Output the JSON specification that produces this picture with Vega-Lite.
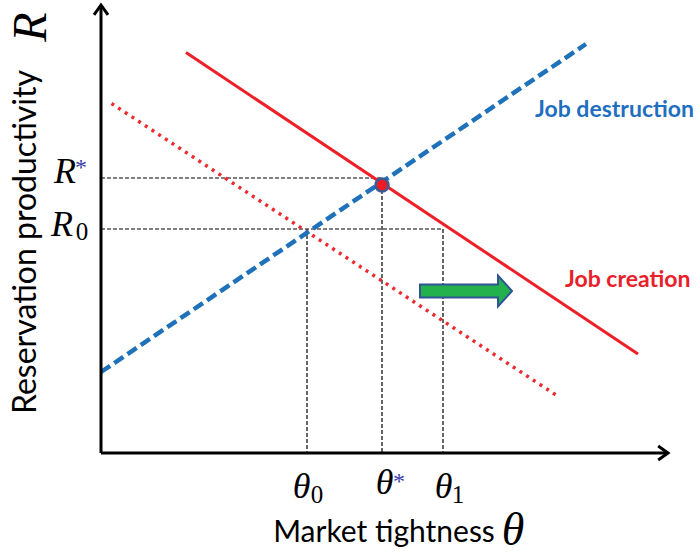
{
  "$schema": "https://vega.github.io/schema/vega-lite/v6.json",
  "width": 696,
  "height": 554,
  "autosize": "none",
  "padding": 0,
  "config": {"view": {"stroke": null}},
  "datasets": {
    "curves": [
      {"series": "Job destruction", "theta": 0.0, "R": 1.62},
      {"series": "Job destruction", "theta": 9.7, "R": 8.18},
      {"series": "Job creation", "theta": 1.7, "R": 8.01},
      {"series": "Job creation", "theta": 10.74, "R": 1.98},
      {"series": "Job creation (initial)", "theta": 0.21, "R": 6.99},
      {"series": "Job creation (initial)", "theta": 9.1, "R": 1.16}
    ],
    "guides": [
      {"theta": 0, "R": 5.5, "theta2": 5.62, "R2": 5.5},
      {"theta": 5.62, "R": 5.5, "theta2": 5.62, "R2": 0},
      {"theta": 0, "R": 4.48, "theta2": 6.84, "R2": 4.48},
      {"theta": 4.12, "R": 4.48, "theta2": 4.12, "R2": 0},
      {"theta": 6.84, "R": 4.48, "theta2": 6.84, "R2": 0}
    ],
    "axes": [
      {"theta": 0, "R": 0, "theta2": 11.3, "R2": 0},
      {"theta": 0, "R": 0, "theta2": 0, "R2": 8.92}
    ]
  },
  "layer": [
    {
      "data": {"name": "guides"},
      "mark": {"type": "rule", "color": "#000000", "strokeWidth": 1.2, "strokeDash": [4, 2]},
      "encoding": {
        "x": {"field": "theta", "type": "quantitative", "scale": {"domain": [-2.02, 11.9], "nice": false, "zero": false}, "axis": null},
        "y": {"field": "R", "type": "quantitative", "scale": {"domain": [-2.02, 9.06], "nice": false, "zero": false}, "axis": null},
        "x2": {"field": "theta2"},
        "y2": {"field": "R2"}
      }
    },
    {
      "data": {"name": "curves"},
      "transform": [{"filter": "datum.series === 'Job creation (initial)'"}],
      "mark": {"type": "line", "color": "#ee2a2f", "strokeWidth": 3.5, "strokeDash": [3, 5]},
      "encoding": {
        "x": {"field": "theta", "type": "quantitative"},
        "y": {"field": "R", "type": "quantitative"}
      }
    },
    {
      "data": {"name": "curves"},
      "transform": [{"filter": "datum.series === 'Job creation'"}],
      "mark": {"type": "line", "color": "#ed1f27", "strokeWidth": 3},
      "encoding": {
        "x": {"field": "theta", "type": "quantitative"},
        "y": {"field": "R", "type": "quantitative"}
      }
    },
    {
      "data": {"name": "curves"},
      "transform": [{"filter": "datum.series === 'Job destruction'"}],
      "mark": {"type": "line", "color": "#1f72ba", "strokeWidth": 4.5, "strokeDash": [11, 5]},
      "encoding": {
        "x": {"field": "theta", "type": "quantitative"},
        "y": {"field": "R", "type": "quantitative"}
      }
    },
    {
      "data": {"name": "axes"},
      "mark": {"type": "rule", "color": "#000000", "strokeWidth": 3},
      "encoding": {
        "x": {"field": "theta", "type": "quantitative"},
        "y": {"field": "R", "type": "quantitative"},
        "x2": {"field": "theta2"},
        "y2": {"field": "R2"}
      }
    },
    {
      "data": {"values": [{"theta": 11.34, "R": 0}]},
      "mark": {"type": "point", "shape": "M-1.4,-1L0,0L-1.4,1", "size": 196, "filled": false, "stroke": "#000000", "strokeWidth": 3, "strokeJoin": "miter", "opacity": 1},
      "encoding": {
        "x": {"field": "theta", "type": "quantitative"},
        "y": {"field": "R", "type": "quantitative"}
      }
    },
    {
      "data": {"values": [{"theta": 0, "R": 8.96}]},
      "mark": {"type": "point", "shape": "M-1.4,-1L0,0L-1.4,1", "size": 196, "angle": 270, "filled": false, "stroke": "#000000", "strokeWidth": 3, "strokeJoin": "miter", "opacity": 1},
      "encoding": {
        "x": {"field": "theta", "type": "quantitative"},
        "y": {"field": "R", "type": "quantitative"}
      }
    },
    {
      "data": {"values": [{"theta": 7.3, "R": 3.24}]},
      "mark": {"type": "point", "shape": "M-1,-0.141L0.696,-0.141L0.696,-0.337L1,0L0.696,0.337L0.696,0.141L-1,0.141Z", "size": 8464, "filled": true, "fill": "#22b14c", "stroke": "#2f5597", "strokeWidth": 2, "opacity": 1},
      "encoding": {
        "x": {"field": "theta", "type": "quantitative"},
        "y": {"field": "R", "type": "quantitative"}
      }
    },
    {
      "data": {"values": [{"theta": 5.62, "R": 5.36}]},
      "mark": {"type": "point", "shape": "circle", "size": 170, "filled": true, "fill": "#ed1c24", "stroke": "#3a5a94", "strokeWidth": 2.5, "opacity": 1},
      "encoding": {
        "x": {"field": "theta", "type": "quantitative"},
        "y": {"field": "R", "type": "quantitative"}
      }
    },
    {
      "data": {"values": [
        {"theta": 4.01, "R": -0.9, "label": "θ"},
        {"theta": 5.67, "R": -0.82, "label": "θ"},
        {"theta": 6.85, "R": -0.9, "label": "θ"},
        {"theta": -0.72, "R": 5.4, "label": "R"},
        {"theta": -0.78, "R": 4.34, "label": "R"}
      ]},
      "mark": {"type": "text", "font": "Liberation Serif", "fontStyle": "italic", "fontSize": 36, "align": "center", "baseline": "alphabetic", "color": "#000000"},
      "encoding": {
        "x": {"field": "theta", "type": "quantitative"},
        "y": {"field": "R", "type": "quantitative"},
        "text": {"field": "label"}
      }
    },
    {
      "data": {"values": [
        {"theta": 4.32, "R": -1.0, "label": "0"},
        {"theta": 7.14, "R": -1.0, "label": "1"},
        {"theta": -0.38, "R": 4.26, "label": "0"}
      ]},
      "mark": {"type": "text", "font": "Liberation Serif", "fontSize": 25, "align": "center", "baseline": "alphabetic", "color": "#000000"},
      "encoding": {
        "x": {"field": "theta", "type": "quantitative"},
        "y": {"field": "R", "type": "quantitative"},
        "text": {"field": "label"}
      }
    },
    {
      "data": {"values": [
        {"theta": 5.96, "R": -0.5, "label": "*"},
        {"theta": -0.4, "R": 5.78, "label": "*"}
      ]},
      "mark": {"type": "text", "font": "Liberation Serif", "fontSize": 24, "align": "center", "baseline": "middle", "dy": 4, "color": "#3b3ba8"},
      "encoding": {
        "x": {"field": "theta", "type": "quantitative"},
        "y": {"field": "R", "type": "quantitative"},
        "text": {"field": "label"}
      }
    },
    {
      "data": {"values": [{"theta": -1.38, "R": 8.52, "label": "R"}]},
      "mark": {"type": "text", "font": "Liberation Serif", "fontStyle": "italic", "fontSize": 48, "angle": 270, "align": "center", "baseline": "middle", "color": "#000000"},
      "encoding": {
        "x": {"field": "theta", "type": "quantitative"},
        "y": {"field": "R", "type": "quantitative"},
        "text": {"field": "label"}
      }
    },
    {
      "data": {"values": [{"theta": 8.24, "R": -1.84, "label": "θ"}]},
      "mark": {"type": "text", "font": "Liberation Serif", "fontStyle": "italic", "fontSize": 46, "align": "center", "baseline": "alphabetic", "color": "#000000"},
      "encoding": {
        "x": {"field": "theta", "type": "quantitative"},
        "y": {"field": "R", "type": "quantitative"},
        "text": {"field": "label"}
      }
    },
    {
      "data": {"values": [{"theta": -1.5, "R": 4.22, "label": "Reservation productivity"}]},
      "mark": {"type": "text", "font": "Lato", "fontSize": 32, "angle": 270, "align": "center", "baseline": "middle", "color": "#000000"},
      "encoding": {
        "x": {"field": "theta", "type": "quantitative"},
        "y": {"field": "R", "type": "quantitative"},
        "text": {"field": "label"}
      }
    },
    {
      "data": {"values": [{"theta": 5.66, "R": -1.78, "label": "Market tightness"}]},
      "mark": {"type": "text", "font": "Lato", "fontSize": 30, "align": "center", "baseline": "alphabetic", "color": "#000000"},
      "encoding": {
        "x": {"field": "theta", "type": "quantitative"},
        "y": {"field": "R", "type": "quantitative"},
        "text": {"field": "label"}
      }
    },
    {
      "data": {"values": [{"theta": 8.68, "R": 6.72, "label": "Job destruction"}]},
      "mark": {"type": "text", "font": "Lato", "fontWeight": "bold", "fontSize": 23, "align": "left", "baseline": "alphabetic", "color": "#1f6fc0"},
      "encoding": {
        "x": {"field": "theta", "type": "quantitative"},
        "y": {"field": "R", "type": "quantitative"},
        "text": {"field": "label"}
      }
    },
    {
      "data": {"values": [{"theta": 9.28, "R": 3.32, "label": "Job creation"}]},
      "mark": {"type": "text", "font": "Lato", "fontWeight": "bold", "fontSize": 23, "align": "left", "baseline": "alphabetic", "color": "#e8202a"},
      "encoding": {
        "x": {"field": "theta", "type": "quantitative"},
        "y": {"field": "R", "type": "quantitative"},
        "text": {"field": "label"}
      }
    }
  ]
}
